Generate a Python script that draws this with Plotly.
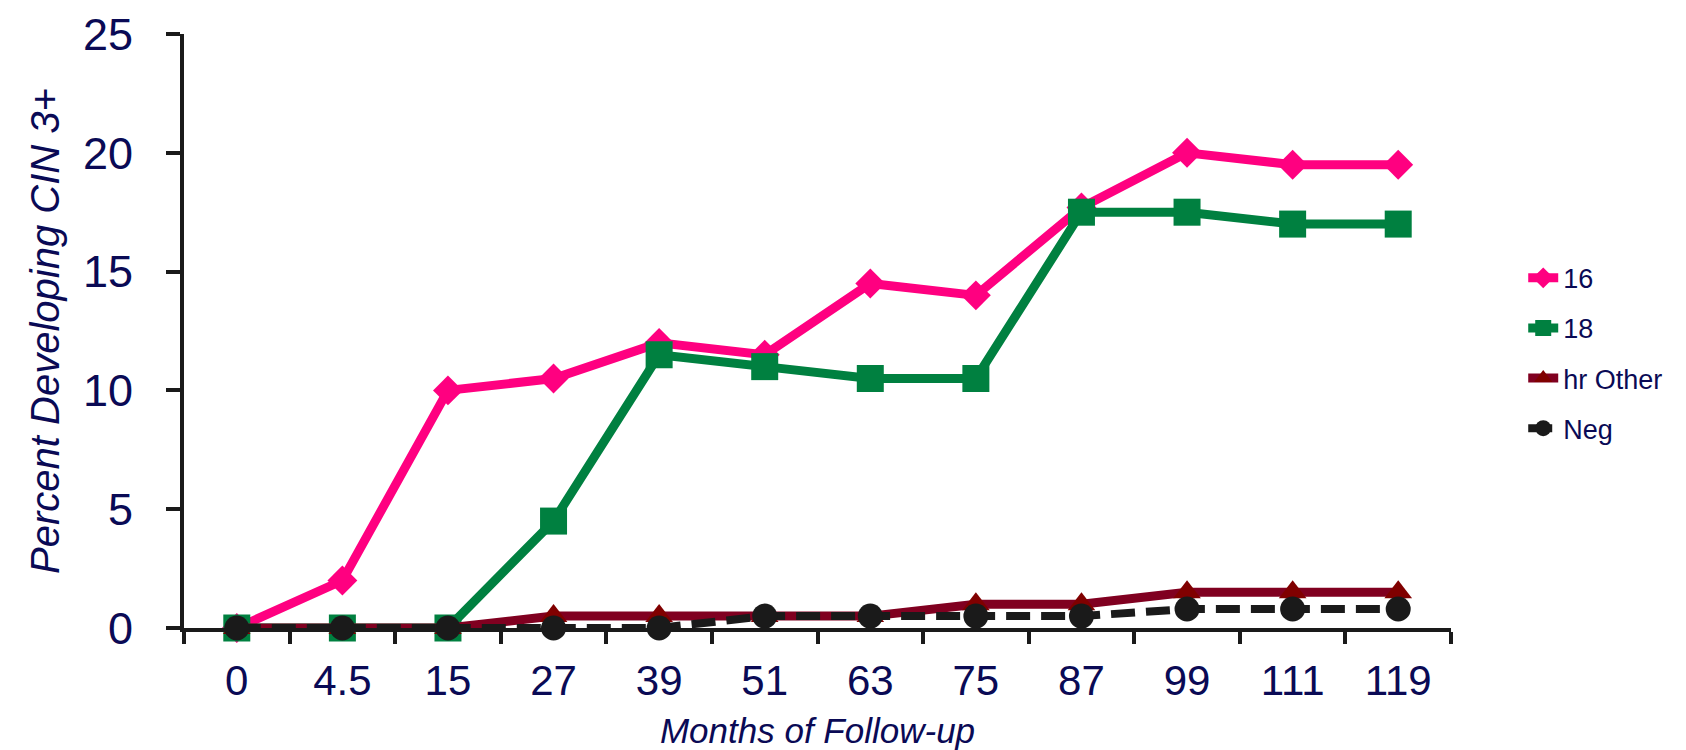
import plotly.graph_objects as go

months = ["0", "4.5", "15", "27", "39", "51", "63", "75", "87", "99", "111", "119"]
hpv16 = [0, 2, 10, 10.5, 12, 11.5, 14.5, 14, 17.7, 20, 19.5, 19.5]
hpv18 = [0, 0, 0, 4.5, 11.5, 11, 10.5, 10.5, 17.5, 17.5, 17, 17]
hr_other = [0, 0, 0, 0.5, 0.5, 0.5, 0.5, 1, 1, 1.5, 1.5, 1.5]
neg = [0, 0, 0, 0, 0, 0.5, 0.5, 0.5, 0.5, 0.8, 0.8, 0.8]

navy = "#0a0a55"
axis_col = "#1a1a1a"
font_family = "Liberation Sans, Arial, sans-serif"

fig = go.Figure()
fig.add_trace(go.Scatter(x=months, y=hpv16, name="16", mode="lines+markers", legendgroup="a",
                         line=dict(color="#ff0080", width=9),
                         marker=dict(symbol="diamond", size=23, color="#ff0080")))
fig.add_trace(go.Scatter(x=months, y=hpv18, name="18", mode="lines+markers", legendgroup="b",
                         line=dict(color="#008040", width=9),
                         marker=dict(symbol="square", size=27, color="#008040")))
fig.add_trace(go.Scatter(x=months, y=hr_other, name="hr Other", mode="lines+markers", legendgroup="c",
                         line=dict(color="#800020", width=9),
                         marker=dict(symbol="triangle-up", size=24, color="#800000")))
fig.add_trace(go.Scatter(x=months, y=neg, name="Neg", mode="lines+markers", legendgroup="d",
                         line=dict(color=axis_col, width=8, dash="24px,11px"),
                         marker=dict(symbol="circle", size=25, color=axis_col)))

fig.update_layout(
    width=1686, height=750,
    paper_bgcolor="white", plot_bgcolor="white",
    margin=dict(l=176, r=243, t=26, b=130),
    font=dict(family=font_family, color=navy),
    showlegend=True,
    legend=dict(x=1.057, y=0.63, xanchor="left", yanchor="top",
                font=dict(size=27, color=navy, family=font_family),
                tracegroupgap=12, itemwidth=30, bgcolor="rgba(0,0,0,0)"),
    xaxis=dict(type="category", range=[-0.5, 11.5], tickson="boundaries",
               showline=True, linecolor=axis_col, linewidth=4,
               ticks="outside", ticklen=12, tickwidth=4, tickcolor=axis_col,
               ticklabelstandoff=13,
               tickfont=dict(size=42, color=navy), showgrid=False, zeroline=False,
               automargin=False,
               title=dict(text="<i>Months of Follow-up</i>", font=dict(size=35, color=navy), standoff=16)),
    yaxis=dict(range=[0, 25], dtick=5, showline=True, linecolor=axis_col, linewidth=4,
               ticks="outside", ticklen=14, tickwidth=4, tickcolor=axis_col,
               ticklabelstandoff=24,
               tickfont=dict(size=45, color=navy), showgrid=False, zeroline=False,
               automargin=False,
               title=dict(text="<i>Percent Developing CIN 3+</i>", font=dict(size=40, color=navy), standoff=12)),
)
fig.update_traces(cliponaxis=False)

fig.write_html("out.html")
